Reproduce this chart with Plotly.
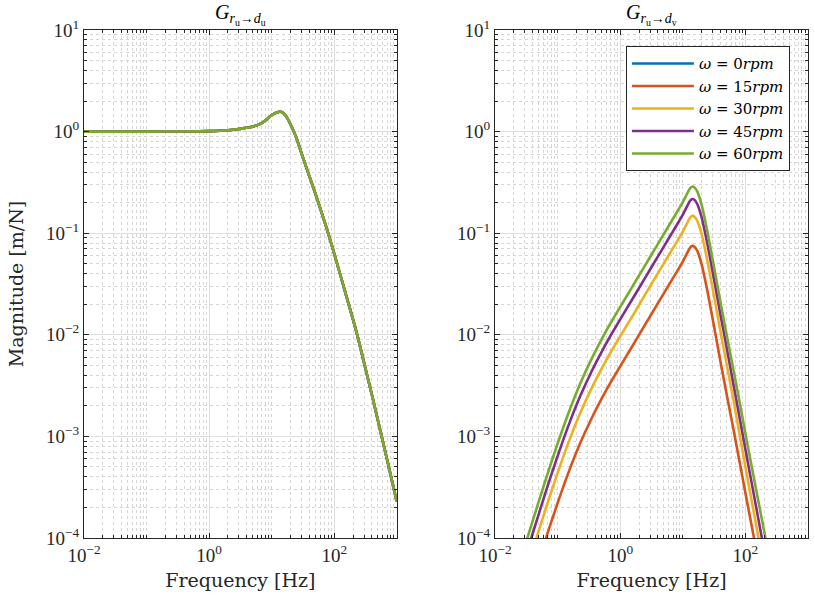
import plotly.graph_objects as go

# ---------------- data ----------------
omegas = [0, 15, 30, 45, 60]  # rpm
colors = ["#0072BD", "#D95319", "#EDB120", "#7E2F8E", "#77AC30"]

# direct term G_{ru->du} (all rotation speeds overlap)
freq_u = [0.01, 0.03, 0.1, 0.3, 1.0, 2.0, 3.0, 5.0, 7.0, 10.0, 12.0, 13.5, 15.0,
          17.0, 20.0, 22.6, 26.0, 30.0, 40.0, 50.0, 65.0, 80.0, 100.0, 150.0,
          233.0, 300.0, 400.0, 573.0, 700.0, 1000.0]
mag_u = [1.0, 1.0, 1.0, 1.002, 1.01, 1.03, 1.06, 1.12, 1.22, 1.45, 1.54, 1.57, 1.55,
         1.42, 1.18, 1.0, 0.8, 0.61, 0.365, 0.245, 0.15, 0.1, 0.063, 0.0263,
         0.01, 0.0053, 0.00257, 0.001, 0.000593, 0.000228]

# coupling term G_{ru->dv}
freq_v = [0.02, 0.025, 0.0329, 0.05, 0.07, 0.1, 0.15, 0.229, 0.35, 0.52, 0.7, 1.0,
          1.5, 2.0, 3.0, 5.0, 7.0, 9.7, 12.0, 13.2, 14.3, 15.5, 17.0, 20.0, 25.0,
          30.0, 35.0, 40.0, 50.0, 65.0, 80.0, 102.0, 150.0, 209.0, 260.0, 300.0]
mag_v_0 = [0.0] * 36
mag_v_15 = [9.6e-6, 1.5e-5, 2.6e-5, 5.95e-5, 1.14e-4, 2.21e-4, 4.45e-4, 8.55e-4,
            1.51e-3, 2.43e-3, 3.38e-3, 4.89e-3, 7.41e-3, 9.98e-3, 1.52e-2, 0.0257,
            0.0363, 0.0507, 0.0655, 0.0725, 0.075, 0.0731, 0.0671, 0.0494, 0.026,
            0.0143, 0.00853, 0.00543, 0.00263, 1.14e-3, 5.8e-4, 2.6e-4, 7.5e-5,
            2.6e-5, 1.3e-5, 8.1e-6]
mag_v_30 = [1.9e-5, 2.97e-5, 5.14e-5, 1.18e-4, 2.26e-4, 4.37e-4, 8.79e-4, 1.69e-3,
            2.99e-3, 4.81e-3, 6.68e-3, 9.66e-3, 1.46e-2, 1.97e-2, 3.0e-2, 0.0507,
            0.0717, 0.1, 0.1295, 0.1434, 0.148, 0.1444, 0.1326, 0.0977, 0.0514,
            0.0283, 0.0169, 0.0107, 0.0052, 2.2e-3, 1.08e-3, 4.7e-4, 1.3e-4,
            4.3e-5, 2.3e-5, 1.45e-5]
mag_v_45 = [2.79e-5, 4.34e-5, 7.53e-5, 1.72e-4, 3.31e-4, 6.4e-4, 1.29e-3, 2.48e-3,
            4.38e-3, 7.04e-3, 9.79e-3, 1.42e-2, 2.15e-2, 2.89e-2, 4.39e-2, 0.0743,
            0.105, 0.147, 0.19, 0.21, 0.217, 0.2116, 0.194, 0.143, 0.0753,
            0.0414, 0.0247, 0.0157, 0.0076, 3.15e-3, 1.58e-3, 7.0e-4, 1.95e-4,
            6.5e-5, 3.4e-5, 2.1e-5]
mag_v_60 = [3.7e-5, 5.77e-5, 1.0e-4, 2.29e-4, 4.39e-4, 8.5e-4, 1.71e-3, 3.29e-3,
            5.82e-3, 9.35e-3, 1.3e-2, 1.88e-2, 2.85e-2, 3.84e-2, 5.83e-2, 0.0987,
            0.1395, 0.195, 0.252, 0.279, 0.288, 0.281, 0.258, 0.19, 0.1,
            0.055, 0.0328, 0.0209, 0.0101, 4.4e-3, 2.24e-3, 1.0e-3, 2.9e-4,
            1.0e-4, 5.0e-5, 3.1e-5]
mag_v = [mag_v_0, mag_v_15, mag_v_30, mag_v_45, mag_v_60]

x_major = [1e-2, 1e0, 1e2]
x_major_text = ["10<sup>−2</sup>", "10<sup>0</sup>", "10<sup>2</sup>"]
y_major = [1e-4, 1e-3, 1e-2, 1e-1, 1e0, 1e1]
y_major_text = ["10<sup>−4</sup>", "10<sup>−3</sup>", "10<sup>−2</sup>",
                "10<sup>−1</sup>", "10<sup>0</sup>", "10<sup>1</sup>"]

# ---------------- figure ----------------
FONT = "Liberation Serif"
TFONT = "DejaVu Serif"
fig = go.Figure()

for w, c in zip(omegas, colors):
    fig.add_trace(go.Scatter(x=freq_u, y=mag_u, mode="lines",
                             line=dict(color=c, width=2.6, shape="spline", smoothing=0.8),
                             showlegend=False, xaxis="x", yaxis="y"))

for w, c, m in zip(omegas, colors, mag_v):
    fig.add_trace(go.Scatter(x=freq_v, y=m, mode="lines",
                             line=dict(color=c, width=2.6, shape="spline", smoothing=0.8),
                             name=f"<i>ω</i> = {w}<i>rpm</i>",
                             showlegend=True, xaxis="x2", yaxis="y2"))

minor_x = [k * 10.0 ** e for e in range(-2, 3) for k in range(2, 11)]
minor_x = [v for v in minor_x if v not in (1.0, 100.0)]
minor_y = [k * 10.0 ** e for e in range(-4, 1) for k in range(2, 10)]

def xaxis(domain, anchor):
    return dict(type="log", domain=domain, anchor=anchor, range=[-2, 3],
                tickvals=x_major, ticktext=x_major_text, ticks="inside", ticklen=5,
                tickcolor="#262626", showline=True, linecolor="#262626", linewidth=1,
                mirror="allticks", showgrid=True, gridcolor="#dedede", gridwidth=1,
                tickfont=dict(family=FONT, size=19, color="#262626"),
                title=dict(text="Frequency [Hz]", font=dict(family=TFONT, size=19, color="#262626"),
                           standoff=8),
                minor=dict(tickvals=minor_x, ticks="inside", ticklen=3, tickcolor="#262626",
                           showgrid=True, gridcolor="#d6d6d6", griddash="dot", gridwidth=1),
                zeroline=False)

def yaxis(anchor, title):
    d = dict(type="log", domain=[0, 1], anchor=anchor, range=[-4, 1],
             tickvals=y_major, ticktext=y_major_text, ticks="inside", ticklen=5,
             tickcolor="#262626", showline=True, linecolor="#262626", linewidth=1,
             mirror="allticks", showgrid=True, gridcolor="#dedede", gridwidth=1,
             tickfont=dict(family=FONT, size=19, color="#262626"),
             minor=dict(tickvals=minor_y, ticks="inside", ticklen=3, tickcolor="#262626",
                        showgrid=True, gridcolor="#d6d6d6", griddash="dot", gridwidth=1),
             zeroline=False)
    if title:
        d["title"] = dict(text=title, font=dict(family=TFONT, size=19, color="#262626"),
                          standoff=17)
    return d

fig.update_layout(
    width=815, height=605,
    margin=dict(l=84, r=7, t=30, b=67),
    paper_bgcolor="white", plot_bgcolor="white",
    xaxis=xaxis([0, 0.432], "y"),
    yaxis=yaxis("x", "Magnitude [m/N]"),
    xaxis2=xaxis([0.5677, 1.0], "y2"),
    yaxis2=yaxis("x2", None),
    legend=dict(x=0.975, y=0.968, xanchor="right", yanchor="top",
                bgcolor="white", bordercolor="#262626", borderwidth=1,
                font=dict(family=TFONT, size=15, color="#000000"),
                itemwidth=62, tracegroupgap=0),
    showlegend=True,
)

titles = ["<i>G</i><sub><i>r</i><sub>u</sub>→<i>d</i><sub>u</sub></sub>",
          "<i>G</i><sub><i>r</i><sub>u</sub>→<i>d</i><sub>v</sub></sub>"]
for xc, t in zip([0.216, 0.7838], titles):
    fig.add_annotation(x=xc, y=1.0 + 16 / 508, xref="paper", yref="paper", xanchor="center",
                       yanchor="middle", text=t, showarrow=False,
                       font=dict(family=FONT, size=20, color="#000000"))

fig.write_html("out.html")
